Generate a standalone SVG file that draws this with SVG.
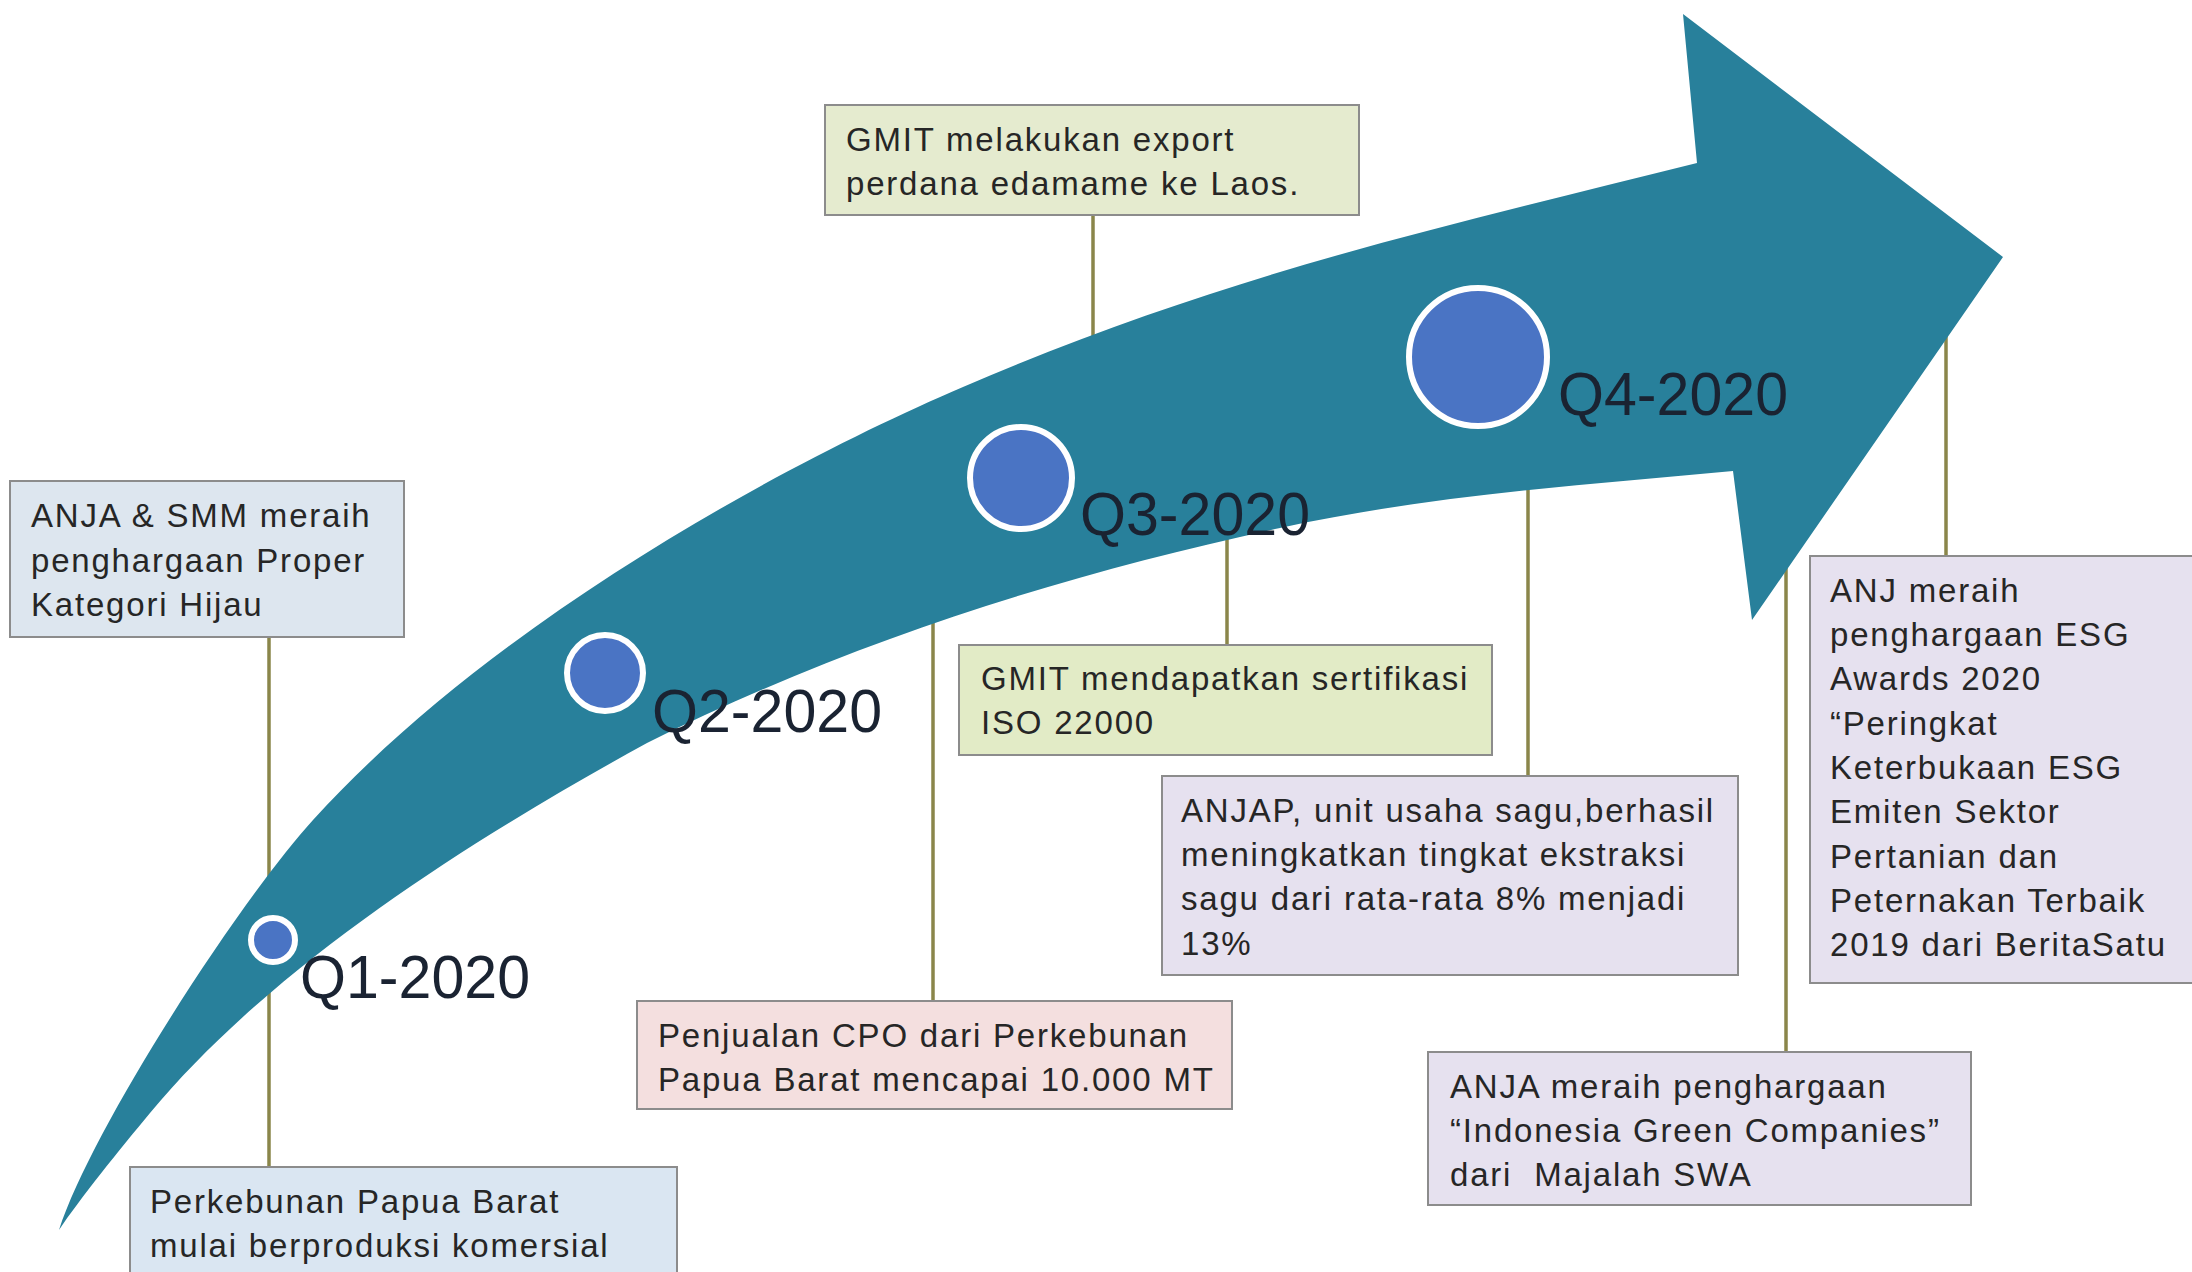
<svg xmlns="http://www.w3.org/2000/svg" width="2192" height="1272" viewBox="0 0 2192 1272">
<style>
.box{stroke:#8c8c8c;stroke-width:2}
.b-blue{fill:#dde6ef}
.b-blue2{fill:#dae6f2}
.b-green{fill:#e5ebcf}
.b-green2{fill:#e2ebc6}
.b-pink{fill:#f4dfdf}
.b-lav{fill:#e6e1ef}
.t{font-family:"Liberation Sans",Arial,sans-serif;font-size:33px;letter-spacing:1.8px;fill:#262626}
.q{font-family:"Liberation Sans",Arial,sans-serif;font-size:62px;fill:#1a2332}
.dot{fill:#4a74c4;stroke:#ffffff;stroke-width:6}
.conn line{stroke:#8a864a;stroke-width:3.5}
</style>
<rect width="2192" height="1272" fill="#ffffff"/>
<g id="connectors" class="conn">
<line x1="269" y1="637" x2="269" y2="1167"/>
<line x1="933" y1="600" x2="933" y2="1001"/>
<line x1="1093" y1="215" x2="1093" y2="360"/>
<line x1="1227" y1="520" x2="1227" y2="645"/>
<line x1="1528" y1="470" x2="1528" y2="776"/>
<line x1="1786" y1="540" x2="1786" y2="1052"/>
<line x1="1946" y1="320" x2="1946" y2="556"/>
</g>
<g id="arrow">
<path fill="#28809b" d="M59,1230 C92,1128 240,900 313,820 C493,622 783,464 963,387 C1223,275 1437,228 1697,163 L1683,14 L2003,257 L1752,620 L1733,471 C1583,485 1430,495 1280,528 C1069,574 858,638 647,743 C487,831 280,957 150,1113 C120,1149 79,1200 59,1230 Z"/>
</g>
<g id="q1">
<circle class="dot" cx="273" cy="940" r="22"/>
<text class="q" x="300" y="998" textLength="230" lengthAdjust="spacingAndGlyphs">Q1-2020</text>
</g>
<g id="q2">
<circle class="dot" cx="605" cy="673" r="38"/>
<text class="q" x="652" y="732" textLength="230" lengthAdjust="spacingAndGlyphs">Q2-2020</text>
</g>
<g id="q3">
<circle class="dot" cx="1021" cy="478" r="51"/>
<text class="q" x="1080" y="535" textLength="230" lengthAdjust="spacingAndGlyphs">Q3-2020</text>
</g>
<g id="q4">
<circle class="dot" cx="1478" cy="357" r="69" stroke-width="7"/>
<text class="q" x="1558" y="415" textLength="230" lengthAdjust="spacingAndGlyphs">Q4-2020</text>
</g>
<g id="box-anja-smm">
<rect class="box b-blue" x="10" y="481" width="394" height="156"/>
<text class="t" x="31" y="527">ANJA &amp; SMM meraih</text>
<text class="t" x="31" y="572">penghargaan Proper</text>
<text class="t" x="31" y="616">Kategori Hijau</text>
</g>
<g id="box-perkebunan">
<rect class="box b-blue2" x="130" y="1167" width="547" height="120"/>
<text class="t" x="150" y="1213">Perkebunan Papua Barat</text>
<text class="t" x="150" y="1257">mulai berproduksi komersial</text>
</g>
<g id="box-gmit-export">
<rect class="box b-green" x="825" y="105" width="534" height="110"/>
<text class="t" x="846" y="151">GMIT melakukan export</text>
<text class="t" x="846" y="195">perdana edamame ke Laos.</text>
</g>
<g id="box-penjualan">
<rect class="box b-pink" x="637" y="1001" width="595" height="108"/>
<text class="t" x="658" y="1047">Penjualan CPO dari Perkebunan</text>
<text class="t" x="658" y="1091">Papua Barat mencapai 10.000 MT</text>
</g>
<g id="box-gmit-iso">
<rect class="box b-green2" x="959" y="645" width="533" height="110"/>
<text class="t" x="981" y="690">GMIT mendapatkan sertifikasi</text>
<text class="t" x="981" y="734">ISO 22000</text>
</g>
<g id="box-anjap">
<rect class="box b-lav" x="1162" y="776" width="576" height="199"/>
<text class="t" x="1181" y="822">ANJAP, unit usaha sagu,berhasil</text>
<text class="t" x="1181" y="866">meningkatkan tingkat ekstraksi</text>
<text class="t" x="1181" y="910">sagu dari rata-rata 8% menjadi</text>
<text class="t" x="1181" y="955">13%</text>
</g>
<g id="box-anja-swa">
<rect class="box b-lav" x="1428" y="1052" width="543" height="153"/>
<text class="t" x="1450" y="1098">ANJA meraih penghargaan</text>
<text class="t" x="1450" y="1142">“Indonesia Green Companies”</text>
<text class="t" x="1450" y="1186" xml:space="preserve">dari  Majalah SWA</text>
</g>
<g id="box-anj-esg">
<rect class="box b-lav" x="1810" y="556" width="390" height="427"/>
<text class="t" x="1830" y="602">ANJ meraih</text>
<text class="t" x="1830" y="646">penghargaan ESG</text>
<text class="t" x="1830" y="690">Awards 2020</text>
<text class="t" x="1830" y="735">“Peringkat</text>
<text class="t" x="1830" y="779">Keterbukaan ESG</text>
<text class="t" x="1830" y="823">Emiten Sektor</text>
<text class="t" x="1830" y="868">Pertanian dan</text>
<text class="t" x="1830" y="912">Peternakan Terbaik</text>
<text class="t" x="1830" y="956">2019 dari BeritaSatu</text>
</g>
</svg>
